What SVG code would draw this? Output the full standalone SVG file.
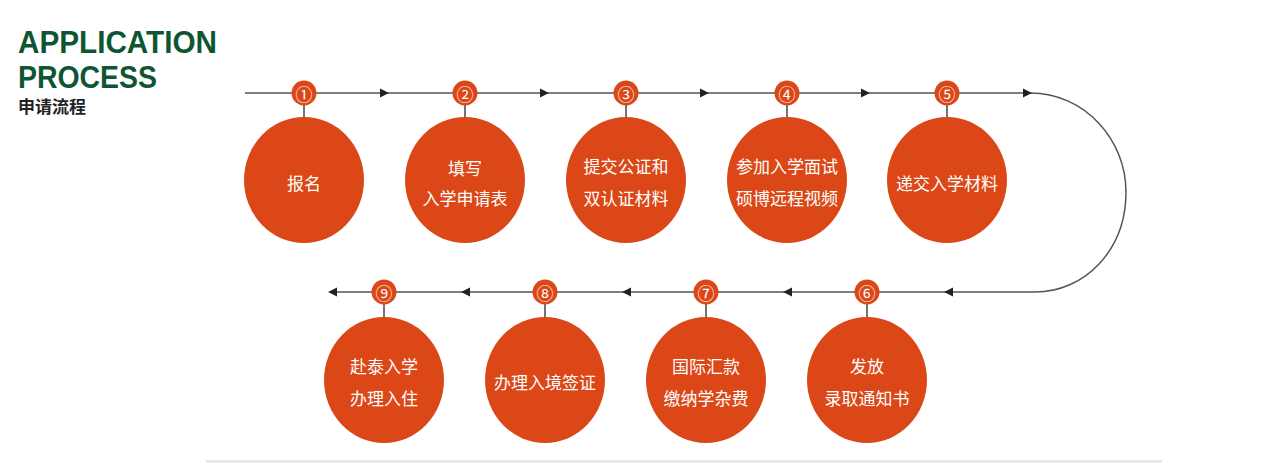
<svg xmlns="http://www.w3.org/2000/svg" width="1268" height="464" viewBox="0 0 1268 464">
<style>
.title{font-family:"Liberation Sans",Arial,sans-serif;font-weight:bold;fill:#0e5633;}
.sub{font-family:"Noto Sans CJK SC",sans-serif;font-weight:bold;fill:#222;font-size:17px;}
.big{fill:#db4716;}
.lbl{font-family:"Noto Sans CJK SC",sans-serif;fill:#fff;font-size:17px;text-anchor:middle;dominant-baseline:central;}
.badge{fill:#db4716;}
.num{font-family:"Noto Sans CJK SC",sans-serif;fill:#fff;font-size:17px;text-anchor:middle;dominant-baseline:central;}
.ln{stroke:#555;stroke-width:1.5;fill:none;}
.stem{stroke:#444;stroke-width:1.5;}
.arr{fill:#222;}
</style>
<defs>
<path id="ar" d="M-8,-4.5 L1,0 L-8,4.5 Z"/>
<path id="al" d="M8,-4.5 L-1,0 L8,4.5 Z"/>
</defs>
<rect x="206" y="460" width="956" height="3" fill="#e2eaea"/>
<text class="title" x="18" y="53" font-size="31" textLength="199" lengthAdjust="spacingAndGlyphs">APPLICATION</text>
<text class="title" x="18" y="88" font-size="31" textLength="139" lengthAdjust="spacingAndGlyphs">PROCESS</text>
<text class="sub" x="18" y="113">申请流程</text>
<g id="connectors">
<path class="ln" d="M245,93 L1030,93 C1085,93 1126,140 1126,192 C1126,250 1085,292 1035,292 L330,292"/>
<use href="#ar" class="arr" x="388" y="93"/>
<use href="#ar" class="arr" x="548" y="93"/>
<use href="#ar" class="arr" x="708" y="93"/>
<use href="#ar" class="arr" x="869" y="93"/>
<use href="#ar" class="arr" x="1031" y="93"/>
<use href="#al" class="arr" x="945" y="292"/>
<use href="#al" class="arr" x="784" y="292"/>
<use href="#al" class="arr" x="623" y="292"/>
<use href="#al" class="arr" x="462" y="292"/>
<use href="#al" class="arr" x="329" y="292"/>
<line class="stem" x1="304" y1="105" x2="304" y2="120"/>
<line class="stem" x1="465" y1="105" x2="465" y2="120"/>
<line class="stem" x1="626" y1="105" x2="626" y2="120"/>
<line class="stem" x1="787" y1="105" x2="787" y2="120"/>
<line class="stem" x1="947" y1="105" x2="947" y2="120"/>
<line class="stem" x1="384" y1="304" x2="384" y2="320"/>
<line class="stem" x1="545" y1="304" x2="545" y2="320"/>
<line class="stem" x1="706" y1="304" x2="706" y2="320"/>
<line class="stem" x1="867" y1="304" x2="867" y2="320"/>
</g>
<g id="step1"><circle class="badge" cx="304" cy="93" r="12.5"/><text class="num" x="304" y="93">①</text><ellipse class="big" cx="304" cy="180" rx="60" ry="63"/><text class="lbl" x="304" y="182">报名</text></g>
<g id="step2"><circle class="badge" cx="465" cy="93" r="12.5"/><text class="num" x="465" y="93">②</text><ellipse class="big" cx="465" cy="180" rx="60" ry="63"/><text class="lbl" x="465" y="167">填写</text><text class="lbl" x="465" y="197">入学申请表</text></g>
<g id="step3"><circle class="badge" cx="626" cy="93" r="12.5"/><text class="num" x="626" y="93">③</text><ellipse class="big" cx="626" cy="180" rx="60" ry="63"/><text class="lbl" x="626" y="165">提交公证和</text><text class="lbl" x="626" y="197">双认证材料</text></g>
<g id="step4"><circle class="badge" cx="787" cy="93" r="12.5"/><text class="num" x="787" y="93">④</text><ellipse class="big" cx="787" cy="180" rx="60" ry="63"/><text class="lbl" x="787" y="165">参加入学面试</text><text class="lbl" x="787" y="197">硕博远程视频</text></g>
<g id="step5"><circle class="badge" cx="947" cy="93" r="12.5"/><text class="num" x="947" y="93">⑤</text><ellipse class="big" cx="947" cy="180" rx="60" ry="63"/><text class="lbl" x="947" y="182">递交入学材料</text></g>
<g id="step6"><circle class="badge" cx="867" cy="292" r="12.5"/><text class="num" x="867" y="292">⑥</text><ellipse class="big" cx="867" cy="380" rx="60" ry="63"/><text class="lbl" x="867" y="365">发放</text><text class="lbl" x="867" y="397">录取通知书</text></g>
<g id="step7"><circle class="badge" cx="706" cy="292" r="12.5"/><text class="num" x="706" y="292">⑦</text><ellipse class="big" cx="706" cy="380" rx="60" ry="63"/><text class="lbl" x="706" y="365">国际汇款</text><text class="lbl" x="706" y="397">缴纳学杂费</text></g>
<g id="step8"><circle class="badge" cx="545" cy="292" r="12.5"/><text class="num" x="545" y="292">⑧</text><ellipse class="big" cx="545" cy="380" rx="60" ry="63"/><text class="lbl" x="545" y="381">办理入境签证</text></g>
<g id="step9"><circle class="badge" cx="384" cy="292" r="12.5"/><text class="num" x="384" y="292">⑨</text><ellipse class="big" cx="384" cy="380" rx="60" ry="63"/><text class="lbl" x="384" y="365">赴泰入学</text><text class="lbl" x="384" y="397">办理入住</text></g>
</svg>
